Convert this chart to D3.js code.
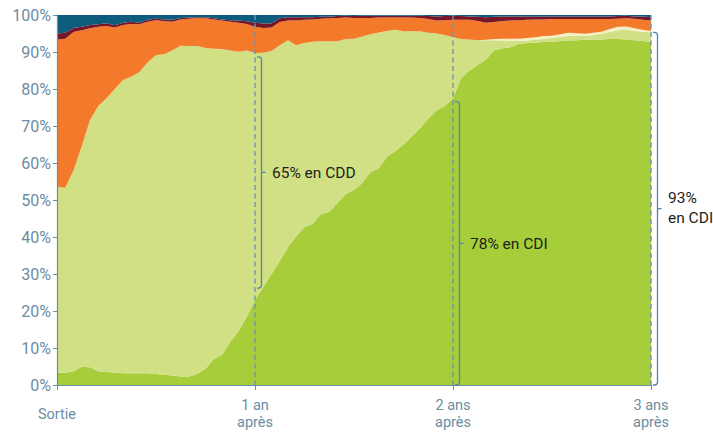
<!DOCTYPE html>
<html lang="fr">
<head>
  <meta charset="utf-8">
  <script src="https://d3js.org/d3.v7.min.js"></script>
  <style>
    body { margin: 0; background: #fff; }
    svg text { font-family: Roboto, "Liberation Sans", sans-serif; }
  </style>
</head>
<body>
  <div id="chart"></div>
  <script>
  const width = 713
  const height = 434

  // half-month steps from exit (0) to 3 years (36 months)
  const months = d3.range(73).map(i => i / 2)

  // shares in %
  const cdi = [3.3, 3.3, 3.7, 4.9, 4.8, 3.7, 3.5, 3.4, 3.2, 3.2,
    3.2, 3.2, 3.0, 2.8, 2.6, 2.3, 2.3, 3.0, 4.4, 7.0,
    8.2, 11.7, 14.5, 18.5, 23.0, 26.5, 30.0, 33.5, 37.2, 40.2,
    42.7, 43.6, 46.2, 46.8, 49.2, 51.6, 52.8, 54.6, 57.6, 58.6,
    61.7, 63.2, 65.0, 67.2, 69.3, 72.0, 74.2, 75.4, 77.5, 83.0,
    85.0, 86.5, 88.0, 90.5, 91.0, 91.3, 92.2, 92.4, 92.5, 92.7,
    92.8, 93.0, 93.1, 93.2, 93.3, 93.4, 93.4, 93.5, 93.5, 93.4,
    93.2, 93.0, 92.8]
  const cdd = [50.3, 50.0, 54.3, 59.6, 66.8, 71.7, 74.0, 76.6, 79.2, 80.1,
    81.4, 84.0, 86.2, 86.6, 87.9, 89.4, 89.3, 88.6, 86.7, 83.9,
    82.6, 78.7, 75.6, 71.9, 66.7, 63.3, 60.3, 58.3, 56.0, 51.6,
    49.7, 49.2, 46.7, 46.1, 43.7, 41.9, 40.8, 39.6, 37.2, 36.7,
    34.0, 32.8, 30.6, 28.4, 26.3, 23.2, 20.8, 19.2, 16.5, 10.5,
    8.4, 6.7, 5.2, 2.7, 2.1, 1.7, 0.8, 0.7, 0.8, 0.9,
    1.0, 1.1, 1.2, 1.1, 1.0, 1.2, 1.5, 1.9, 2.4, 2.6,
    2.5, 2.5, 2.5]
  const autre = [0, 0, 0, 0, 0, 0, 0, 0, 0, 0,
    0, 0, 0, 0, 0, 0, 0, 0, 0, 0,
    0, 0, 0, 0, 0, 0, 0, 0, 0, 0,
    0, 0, 0, 0, 0, 0, 0, 0, 0, 0,
    0, 0, 0, 0, 0, 0, 0, 0, 0, 0,
    0, 0, 0.1, 0.3, 0.5, 0.6, 0.6, 0.7, 0.7, 0.7,
    0.6, 0.7, 0.9, 0.8, 0.6, 0.6, 0.6, 0.8, 0.9, 0.9,
    0.7, 0.5, 0.4]
  const chomage = [39.7, 40.3, 37.4, 31.4, 24.8, 21.4, 19.5, 16.6, 14.9, 14.3,
    12.9, 11.0, 9.4, 8.9, 7.7, 7.1, 7.4, 7.6, 8.0, 7.9,
    7.7, 7.8, 7.8, 7.2, 7.1, 6.7, 6.3, 6.3, 5.3, 6.8,
    6.3, 6.0, 6.1, 6.2, 6.3, 5.8, 5.6, 5.0, 4.4, 4.0,
    3.6, 3.3, 3.7, 3.7, 3.6, 3.7, 3.5, 4.0, 4.7, 5.2,
    5.3, 5.2, 4.6, 4.6, 4.8, 4.9, 5.0, 4.9, 4.8, 4.5,
    4.5, 4.1, 3.7, 3.8, 4.0, 3.7, 3.4, 2.7, 2.2, 2.2,
    2.6, 2.7, 2.8]
  const inactivite = [1.7, 1.6, 1.1, 0.9, 0.9, 0.7, 0.8, 0.6, 0.6, 0.6,
    0.4, 0.5, 0.4, 0.5, 0.5, 0.4, 0.3, 0.2, 0.3, 0.3,
    0.3, 0.4, 0.6, 0.7, 1.1, 1.2, 1.1, 1.0, 0.9, 0.8,
    0.7, 0.6, 0.5, 0.4, 0.5, 0.5, 0.5, 0.6, 0.6, 0.5,
    0.5, 0.5, 0.5, 0.5, 0.6, 0.8, 1.1, 1.1, 1.1, 1.0,
    0.9, 1.1, 1.5, 1.4, 1.2, 1.1, 1.0, 0.9, 0.8, 0.8,
    0.7, 0.7, 0.7, 0.7, 0.7, 0.7, 0.7, 0.7, 0.7, 0.7,
    0.6, 0.9, 0.9]
  const formation = [5.0, 4.8, 3.5, 3.2, 2.7, 2.5, 2.2, 2.8, 2.1, 1.8,
    2.1, 1.3, 1.0, 1.2, 1.3, 0.8, 0.7, 0.6, 0.6, 0.9,
    1.2, 1.4, 1.5, 1.7, 2.1, 2.3, 2.3, 0.9, 0.6, 0.6,
    0.6, 0.6, 0.5, 0.5, 0.3, 0.2, 0.3, 0.2, 0.2, 0.2,
    0.2, 0.2, 0.2, 0.2, 0.2, 0.3, 0.4, 0.3, 0.2, 0.3,
    0.4, 0.5, 0.6, 0.5, 0.4, 0.4, 0.4, 0.4, 0.4, 0.4,
    0.4, 0.4, 0.4, 0.4, 0.4, 0.4, 0.4, 0.4, 0.3, 0.2,
    0.4, 0.4, 0.6]

  const keys = ["cdi", "cdd", "autre", "chomage", "inactivite", "formation"]
  const colors = ["#a7cd3a", "#d2e085", "#f2f1c6", "#f47a2b", "#781527", "#0d5b7d"]

  const yTicks = [0, 10, 20, 30, 40, 50, 60, 70, 80, 90, 100]
  const xTicks = [0, 12, 24, 36]
  const xLabels = [["Sortie"], ["1 an", "après"], ["2 ans", "après"], ["3 ans", "après"]]

  const notes = [
    {month: 12, lo: 26.2, hi: 88.7, text: ["65% en CDD"]},
    {month: 24, lo: 0, hi: 76.6, text: ["78% en CDI"]},
    {month: 36, lo: 0, hi: 95.3, text: ["93%", "en CDI"]}
  ]

  const table = months.map((m, i) => ({
    month: m, cdi: cdi[i], cdd: cdd[i], autre: autre[i],
    chomage: chomage[i], inactivite: inactivite[i], formation: formation[i]
  }))

  const x = d3.scaleLinear().domain([0, 36]).range([57, 651])
  const y = d3.scaleLinear().domain([0, 100]).range([385, 15])
  const color = d3.scaleOrdinal().domain(keys).range(colors)

  const axisCol = "#6a8da3"
  const lineCol = "#7195ad"

  const svg = d3.select("#chart").append("svg")
    .attr("width", width)
    .attr("height", height)

  ////////////////////// stacked areas //////////////////////
  const series = d3.stack().keys(keys)(table)

  const area = d3.area()
    .x(d => x(d.data.month))
    .y0(d => y(d[0]))
    .y1(d => y(d[1]))

  svg.append("g").selectAll("path")
    .data(series)
    .join("path")
    .attr("d", area)
    .attr("fill", d => color(d.key))

  ////////////////////// dashed year lines //////////////////////
  svg.append("g").selectAll("line")
    .data(xTicks.slice(1))
    .join("line")
    .attr("x1", d => x(d)).attr("x2", d => x(d))
    .attr("y1", y(100)).attr("y2", y(0) + 4)
    .attr("stroke", lineCol)
    .attr("stroke-width", 1.4)
    .attr("stroke-dasharray", "5,3.5")

  ////////////////////// axes //////////////////////
  const yAxis = svg.append("g")
    .attr("transform", `translate(${x(0)},0)`)
    .call(d3.axisLeft(y).tickValues(yTicks).tickFormat(d => d + "%").tickSize(4).tickSizeOuter(0))
  yAxis.select(".domain").attr("stroke", axisCol).attr("stroke-width", 1.2)
  yAxis.selectAll(".tick line").attr("stroke", axisCol)
  yAxis.selectAll(".tick text")
    .attr("x", -6)
    .attr("fill", axisCol)
    .style("font-size", "16px")

  const xAxis = svg.append("g")
    .attr("transform", `translate(0,${y(0)})`)
    .call(d3.axisBottom(x).tickValues(xTicks).tickFormat("").tickSize(5).tickSizeOuter(0))
  xAxis.select(".domain").attr("stroke", axisCol).attr("stroke-width", 1.2)
  xAxis.selectAll(".tick line").attr("stroke", axisCol)

  // one text per line so the two lines of a label stay apart
  const xLines = xTicks.flatMap((t, i) => xLabels[i].map((s, j) => ({
    t: t, s: s, base: xLabels[i].length > 1 ? 410 + j * 17 : 419
  })))
  svg.append("g").selectAll("text")
    .data(xLines)
    .join("text")
    .attr("x", d => x(d.t))
    .attr("y", d => d.base)
    .attr("text-anchor", "middle")
    .attr("fill", axisCol)
    .style("font-size", "14.5px")
    .text(d => d.s)

  ////////////////////// brackets //////////////////////
  function bracket(xd, y0, y1) {
    const xb = xd + 6.5, xs = xd + 2, r = 3, ym = (y0 + y1) / 2
    return `M${xs},${y0} L${xb - r},${y0} Q${xb},${y0} ${xb},${y0 + r} L${xb},${ym} l4,0 m-4,0 L${xb},${y1 - r} Q${xb},${y1} ${xb - r},${y1} L${xs},${y1}`
  }

  const note = svg.append("g").selectAll("g")
    .data(notes)
    .join("g")

  note.append("path")
    .attr("d", d => bracket(x(d.month), y(d.hi), y(d.lo)))
    .attr("fill", "none")
    .attr("stroke", "#4f86ab")
    .attr("stroke-width", 1.3)

  note.append("text")
    .attr("x", d => x(d.month) + 17)
    .attr("y", d => (y(d.hi) + y(d.lo)) / 2 + (d.text.length > 1 ? -6 : 5.5))
    .attr("fill", "#1e1e1c")
    .style("font-size", "15.5px")
    .selectAll("tspan")
    .data(d => d.text)
    .join("tspan")
    .attr("x", function() { return this.parentNode.getAttribute("x") })
    .attr("dy", (d, j) => j ? 20 : 0)
    .text(d => d)
  </script>
</body>
</html>
